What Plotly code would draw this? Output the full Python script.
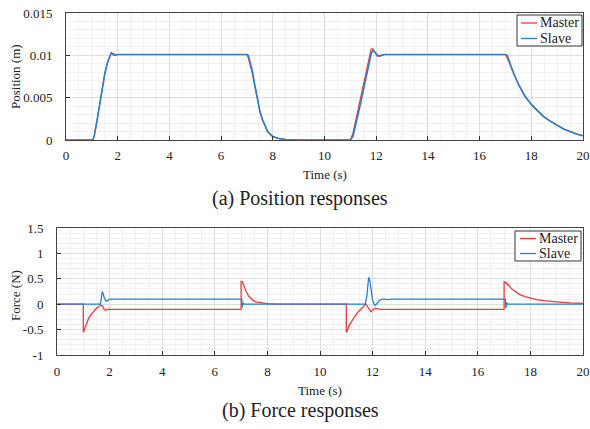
import plotly.graph_objects as go

# ---------------- data ----------------
pos_master_t = [0, 1.0, 1.05, 1.1, 1.2, 1.3, 1.4, 1.5, 1.6, 1.7, 1.75, 1.82, 1.9, 2.0,
                7.0, 7.03, 7.1, 7.2, 7.3, 7.4, 7.5, 7.6, 7.7, 7.8, 7.9, 8.0, 8.2, 8.5, 9.0,
                11.0, 11.1, 11.2, 11.3, 11.4, 11.5, 11.6, 11.7, 11.8, 11.85, 11.95, 12.05, 12.15, 12.3,
                17.0, 17.05, 17.15, 17.3, 17.5, 17.75, 18.0, 18.25, 18.5, 18.75, 19.0, 19.25, 19.5, 19.75, 20.0]
pos_master_v = [0, 0, 0.0001, 0.0006, 0.0023, 0.0043, 0.0062, 0.0078, 0.0091, 0.0101, 0.0103, 0.0102, 0.0101, 0.0101,
                0.0101, 0.0099, 0.0092, 0.0080, 0.0064, 0.0048, 0.0034, 0.0024, 0.0016, 0.0010, 0.0007, 0.0004, 0.0002, 0.00005, 0,
                0, 0.0008, 0.0022, 0.0036, 0.0050, 0.0064, 0.0078, 0.0093, 0.0107, 0.0108, 0.0103, 0.0099, 0.0100, 0.0101,
                0.0101, 0.0097, 0.0091, 0.0080, 0.0066, 0.0052, 0.0042, 0.0034, 0.0027, 0.0022, 0.0017, 0.0013, 0.0010, 0.0007, 0.0005]

pos_slave_t = [0, 1.0, 1.05, 1.1, 1.2, 1.3, 1.4, 1.5, 1.6, 1.7, 1.75, 1.82, 1.9, 2.0,
               7.0, 7.05, 7.1, 7.2, 7.3, 7.4, 7.5, 7.6, 7.7, 7.8, 7.9, 8.0, 8.2, 8.5, 9.0,
               11.0, 11.1, 11.2, 11.3, 11.4, 11.5, 11.6, 11.7, 11.8, 11.87, 11.95, 12.05, 12.15, 12.3, 12.5,
               17.0, 17.07, 17.15, 17.3, 17.5, 17.75, 18.0, 18.25, 18.5, 18.75, 19.0, 19.25, 19.5, 19.75, 20.0]
pos_slave_v = [0, 0, 0.0001, 0.0006, 0.0023, 0.0043, 0.0062, 0.0078, 0.0091, 0.0101, 0.0103, 0.0101, 0.0100, 0.0101,
               0.0101, 0.0100, 0.0095, 0.0083, 0.0066, 0.0049, 0.0034, 0.0024, 0.0016, 0.0010, 0.0007, 0.0004, 0.0002, 0.00005, 0,
               0, 0.0004, 0.0016, 0.0030, 0.0044, 0.0058, 0.0072, 0.0087, 0.0101, 0.0106, 0.0104, 0.0100, 0.0099, 0.0101, 0.0101,
               0.0101, 0.0100, 0.0093, 0.0080, 0.0066, 0.0052, 0.0042, 0.0034, 0.0027, 0.0022, 0.0017, 0.0013, 0.0010, 0.0007, 0.0005]

force_master_t = [0, 1.0, 1.0, 1.02, 1.06, 1.13, 1.2, 1.3, 1.4, 1.5, 1.6, 1.7, 1.75, 1.8, 1.85, 1.9, 2.0,
                  7.0, 7.0, 7.05, 7.1, 7.2, 7.3, 7.4, 7.5, 7.6, 7.8, 8.0, 8.3,
                  11.0, 11.0, 11.03, 11.1, 11.2, 11.3, 11.4, 11.5, 11.6, 11.7, 11.75, 11.8, 11.93, 12.0, 12.1, 12.2, 12.3,
                  17.0, 17.0, 17.04, 17.07, 17.1, 17.14, 17.17, 17.22, 17.3, 17.4, 17.5, 17.6, 17.8, 18.0, 18.25,
                  18.5, 18.75, 19.0, 19.5, 20.0]
force_master_v = [0, 0, -0.55, -0.54, -0.47, -0.35, -0.28, -0.2, -0.13, -0.08, -0.04, -0.02, -0.05, -0.11, -0.12, -0.1, -0.1,
                  -0.1, 0.45, 0.44, 0.38, 0.24, 0.15, 0.1, 0.06, 0.04, 0.02, 0.01, 0.0,
                  0, -0.55, -0.53, -0.42, -0.33, -0.26, -0.18, -0.12, -0.07, -0.02, 0.0, -0.05, -0.15, -0.12, -0.08, -0.09, -0.1,
                  -0.1, 0.44, 0.44, 0.41, 0.42, 0.38, 0.39, 0.34, 0.3, 0.26, 0.22, 0.19, 0.15, 0.12, 0.09,
                  0.07, 0.055, 0.045, 0.025, 0.015]

force_slave_t = [0, 1.65, 1.68, 1.72, 1.76, 1.8, 1.87, 1.93, 2.0, 7.0, 7.03, 7.04, 7.07, 7.1,
                 11.72, 11.78, 11.82, 11.85, 11.9, 11.95, 12.0, 12.08, 12.15, 12.25, 12.35, 12.45, 12.6, 12.7,
                 17.0, 17.05, 17.07, 17.1, 17.15, 20.0]
force_slave_v = [0, 0, 0.1, 0.25, 0.2, 0.12, 0.06, 0.07, 0.1, 0.1, 0.1, -0.07, 0.03, 0,
                 0, 0.15, 0.45, 0.53, 0.45, 0.25, 0.08, -0.02, 0.0, 0.07, 0.1, 0.1, 0.09, 0.1,
                 0.1, 0.1, -0.08, 0.02, 0, 0]

x_ticks = [0, 2, 4, 6, 8, 10, 12, 14, 16, 18, 20]
pos_ticks = [0, 0.005, 0.01, 0.015]
pos_ticktext = ["0", "0.005", "0.01", "0.015"]
force_ticks = [-1, -0.5, 0, 0.5, 1, 1.5]
force_ticktext = ["-1", "-0.5", "0", "0.5", "1", "1.5"]
series_names = ["Master", "Slave"]

# ---------------- styling ----------------
RED = "rgb(242,56,64)"
BLUE = "rgb(44,128,196)"
COLORS = [RED, BLUE]
FONT = "Liberation Serif"
W, H = 590, 429

fig = go.Figure()
fig.add_trace(go.Scatter(x=pos_master_t, y=pos_master_v, mode="lines", name=series_names[0],
                         line=dict(color=RED, width=1.2), xaxis="x", yaxis="y", showlegend=False))
fig.add_trace(go.Scatter(x=pos_slave_t, y=pos_slave_v, mode="lines", name=series_names[1],
                         line=dict(color=BLUE, width=1.6), xaxis="x", yaxis="y", showlegend=False))
fig.add_trace(go.Scatter(x=force_master_t, y=force_master_v, mode="lines", name=series_names[0],
                         line=dict(color=RED, width=1.3), xaxis="x2", yaxis="y2", showlegend=False))
fig.add_trace(go.Scatter(x=force_slave_t, y=force_slave_v, mode="lines", name=series_names[1],
                         line=dict(color=BLUE, width=1.3), xaxis="x2", yaxis="y2", showlegend=False))


def px_x(p):
    return p / W


def px_y(p):
    return 1 - p / H


axis_common = dict(showline=True, mirror=True, linecolor="#444", linewidth=1,
                   ticks="inside", ticklen=4, tickcolor="#333",
                   showgrid=True, gridcolor="#dedede", gridwidth=1, zeroline=False,
                   ticklabeloverflow="allow",
                   tickfont=dict(family=FONT, size=13, color="#222"), automargin=False)

fig.update_layout(
    width=W, height=H, margin=dict(l=0, r=0, t=0, b=0),
    paper_bgcolor="white", plot_bgcolor="white", showlegend=False,
    font=dict(family=FONT, size=13, color="#222"),
    xaxis=dict(domain=[px_x(66), px_x(583)], range=[0, 20], tickvals=x_ticks, anchor="y",
               minor=dict(dtick=0.5, showgrid=True, gridcolor="#f1f1f1", ticks=""),
               ticklabelstandoff=3, **axis_common),
    yaxis=dict(domain=[px_y(140), px_y(13)], range=[0, 0.015], tickvals=pos_ticks, ticktext=pos_ticktext,
               anchor="x", minor=dict(dtick=0.001, showgrid=True, gridcolor="#f1f1f1", ticks=""),
               ticklabelstandoff=10, **axis_common),
    xaxis2=dict(domain=[px_x(57), px_x(583)], range=[0, 20], tickvals=x_ticks, anchor="y2",
                minor=dict(dtick=0.5, showgrid=True, gridcolor="#f1f1f1", ticks=""),
                ticklabelstandoff=4, **axis_common),
    yaxis2=dict(domain=[px_y(355), px_y(228)], range=[-1, 1.5], tickvals=force_ticks, ticktext=force_ticktext,
                anchor="x2", minor=dict(dtick=0.1, showgrid=True, gridcolor="#f1f1f1", ticks=""),
                ticklabelstandoff=10, **axis_common),
)

ann_font = dict(family=FONT, size=13, color="#222")
annotations = [
    dict(text="Time (s)", x=px_x(325), y=px_y(174), font=ann_font),
    dict(text="Time (s)", x=px_x(320), y=px_y(390), font=ann_font),
    dict(text="Position (m)", x=px_x(15), y=px_y(77), textangle=-90, font=ann_font),
    dict(text="Force (N)", x=px_x(15), y=px_y(296), textangle=-90, font=ann_font),
    dict(text="(a) Position responses", x=px_x(300), y=px_y(199), font=dict(family=FONT, size=20, color="#222")),
    dict(text="(b) Force responses", x=px_x(301), y=px_y(410), font=dict(family=FONT, size=20, color="#222")),
]
for a in annotations:
    a.update(xref="paper", yref="paper", showarrow=False, xanchor="center", yanchor="middle")

# legend boxes (drawn in paper space)
shapes = []
legend_specs = [
    dict(box=(517, 582, 15, 46), rows=(23, 38.5), line=(521, 537), tx=537.5),
    dict(box=(515, 581, 231, 261), rows=(238.5, 253.5), line=(520, 536), tx=536.5),
]
for spec in legend_specs:
    bx0, bx1, by0, by1 = spec["box"]
    shapes.append(dict(type="rect", xref="paper", yref="paper",
                       x0=px_x(bx0), x1=px_x(bx1), y0=px_y(by1), y1=px_y(by0),
                       line=dict(color="#333", width=1), fillcolor="white", layer="above"))
    for name, color, ry in zip(series_names, COLORS, spec["rows"]):
        shapes.append(dict(type="line", xref="paper", yref="paper",
                           x0=px_x(spec["line"][0]), x1=px_x(spec["line"][1]),
                           y0=px_y(ry), y1=px_y(ry), line=dict(color=color, width=1.3), layer="above"))
        annotations.append(dict(text=name, x=px_x(spec["tx"]), y=px_y(ry), xref="paper", yref="paper",
                                showarrow=False, xanchor="left", yanchor="middle",
                                font=dict(family=FONT, size=14, color="#222")))

fig.update_layout(annotations=annotations, shapes=shapes)

# remove the default page margin so the figure fills the window exactly
fig.write_html("out.html", config={"displayModeBar": False},
               post_script="document.body.style.margin='0';document.body.style.overflow='hidden';")
